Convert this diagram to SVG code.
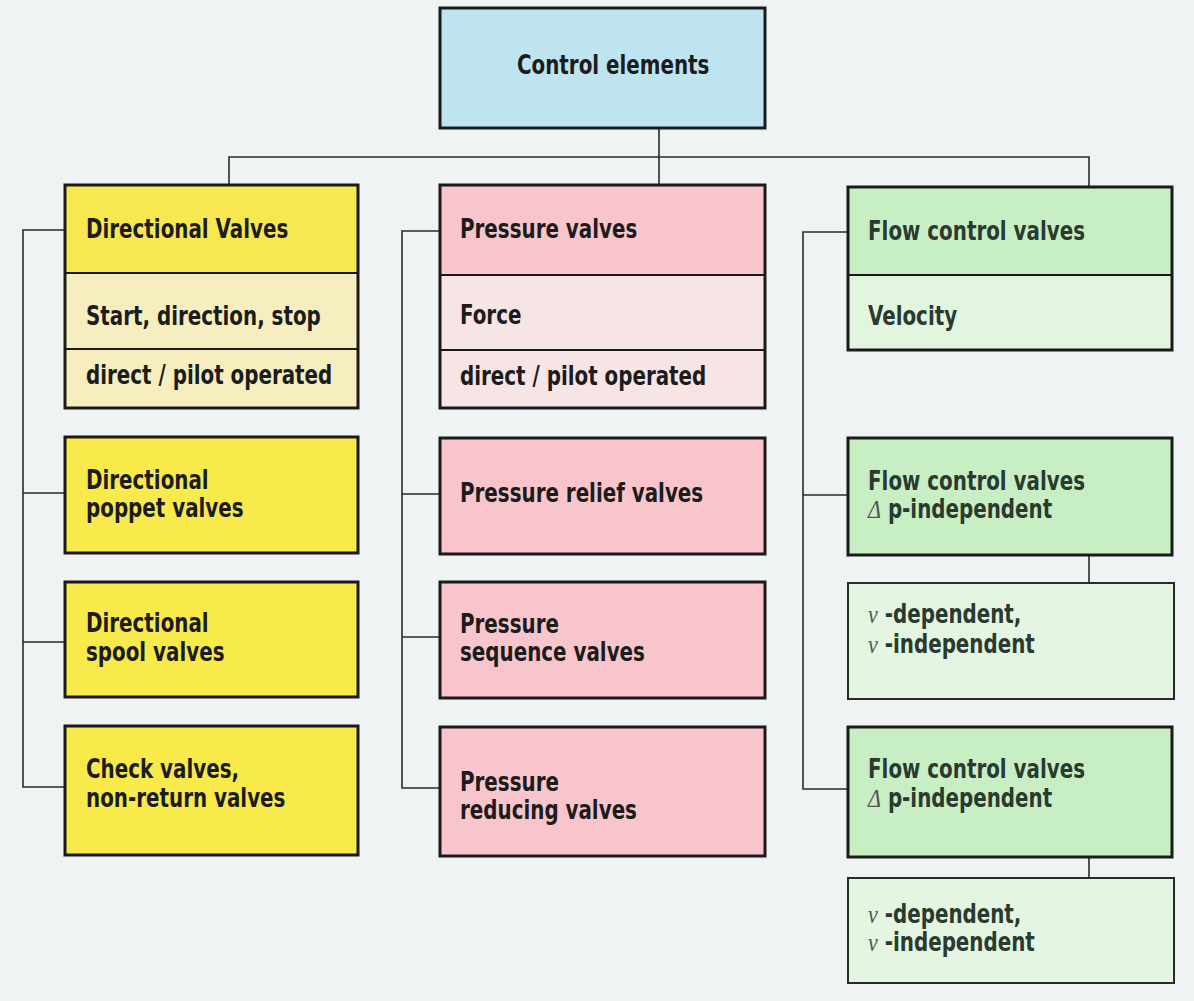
<svg xmlns="http://www.w3.org/2000/svg" width="1194" height="1001" viewBox="0 0 1194 1001">
<style>
.t{font-family:"Liberation Sans Narrow","DejaVu Sans Condensed","Liberation Sans",sans-serif;font-weight:bold;font-size:26px;fill:#1c1c1c}
.g{fill:#2a3a30}
.sym{font-family:"Liberation Serif","DejaVu Serif",serif;font-style:italic;font-weight:normal;fill:#555}
.box{stroke:#1a1a1a;stroke-width:3}
.thin{stroke:#2a2a2a;stroke-width:2}
.div{stroke:#1a1a1a;stroke-width:2}
.con{stroke:#2a2a2a;stroke-width:1.6;fill:none}
</style>
<rect width="1194" height="1001" fill="#eff3f4"/>
<g id="connectors">
<path class="con" d="M659 128V185M229 185V157H1089V187"/>
<path class="con" d="M65 230H23V787H65M23 493H65M23 642H65"/>
<path class="con" d="M440 231H402V788H440M402 494H440M402 637H440"/>
<path class="con" d="M848 232H803V789H848M803 495H848"/>
<path class="con" d="M1089 555V583M1089 857V878"/>
</g>
<g id="control-elements">
<rect class="box" x="440" y="8" width="325" height="120" fill="#bde4ef"/>
<text class="t" transform="scale(0.85 1)" x="608.2" y="74">Control elements</text>
</g>
<g id="directional-valves">
<rect x="65" y="185" width="293" height="88" fill="#f8e84f"/>
<rect x="65" y="273" width="293" height="135" fill="#f6eebe"/>
<line class="div" x1="65" y1="273" x2="358" y2="273"/>
<line class="div" x1="65" y1="349" x2="358" y2="349"/>
<rect class="box" x="65" y="185" width="293" height="223" fill="none"/>
<text class="t" transform="scale(0.85 1)" x="101.2" y="238">Directional Valves</text>
<text class="t" transform="scale(0.85 1)" x="101.2" y="325">Start, direction, stop</text>
<text class="t" transform="scale(0.85 1)" x="101.2" y="384">direct / pilot operated</text>
</g>
<g id="directional-poppet">
<rect class="box" x="65" y="437" width="293" height="116" fill="#f9ea4c"/>
<text class="t" transform="scale(0.85 1)" x="101.2" y="489">Directional</text>
<text class="t" transform="scale(0.85 1)" x="101.2" y="517">poppet valves</text>
</g>
<g id="directional-spool">
<rect class="box" x="65" y="582" width="293" height="115" fill="#f9ea4c"/>
<text class="t" transform="scale(0.85 1)" x="101.2" y="632">Directional</text>
<text class="t" transform="scale(0.85 1)" x="101.2" y="661">spool valves</text>
</g>
<g id="check-valves">
<rect class="box" x="65" y="726" width="293" height="129" fill="#f9ea4c"/>
<text class="t" transform="scale(0.85 1)" x="101.2" y="778">Check valves,</text>
<text class="t" transform="scale(0.85 1)" x="101.2" y="807">non-return valves</text>
</g>
<g id="pressure-valves">
<rect x="440" y="185" width="325" height="90" fill="#f9c5cd"/>
<rect x="440" y="275" width="325" height="133" fill="#f7e4e5"/>
<line class="div" x1="440" y1="275" x2="765" y2="275"/>
<line class="div" x1="440" y1="350" x2="765" y2="350"/>
<rect class="box" x="440" y="185" width="325" height="223" fill="none"/>
<text class="t" transform="scale(0.85 1)" x="541.2" y="238">Pressure valves</text>
<text class="t" transform="scale(0.85 1)" x="541.2" y="324">Force</text>
<text class="t" transform="scale(0.85 1)" x="541.2" y="385">direct / pilot operated</text>
</g>
<g id="pressure-relief">
<rect class="box" x="440" y="438" width="325" height="116" fill="#f9c5cd"/>
<text class="t" transform="scale(0.85 1)" x="541.2" y="502">Pressure relief valves</text>
</g>
<g id="pressure-sequence">
<rect class="box" x="440" y="582" width="325" height="116" fill="#f9c5cd"/>
<text class="t" transform="scale(0.85 1)" x="541.2" y="633">Pressure</text>
<text class="t" transform="scale(0.85 1)" x="541.2" y="661">sequence valves</text>
</g>
<g id="pressure-reducing">
<rect class="box" x="440" y="727" width="325" height="129" fill="#f9c5cd"/>
<text class="t" transform="scale(0.85 1)" x="541.2" y="791">Pressure</text>
<text class="t" transform="scale(0.85 1)" x="541.2" y="819">reducing valves</text>
</g>
<g id="flow-control-valves">
<rect x="848" y="187" width="324" height="88" fill="#c8efc4"/>
<rect x="848" y="275" width="324" height="75" fill="#e2f5df"/>
<line class="div" x1="848" y1="275" x2="1172" y2="275"/>
<rect class="box" x="848" y="187" width="324" height="163" fill="none"/>
<text class="t g" transform="scale(0.85 1)" x="1021.2" y="240">Flow control valves</text>
<text class="t g" transform="scale(0.85 1)" x="1021.2" y="325">Velocity</text>
</g>
<g id="flow-dp-1">
<rect class="box" x="848" y="438" width="324" height="117" fill="#c8efc4"/>
<text class="t g" transform="scale(0.85 1)" x="1021.2" y="490">Flow control valves</text>
<text class="t g" transform="scale(0.85 1)" x="1021.2" y="518"><tspan class="sym">Δ</tspan> p-independent</text>
</g>
<g id="flow-v-1">
<rect class="thin" x="848" y="583" width="326" height="116" fill="#e4f5e1"/>
<text class="t g" transform="scale(0.85 1)" x="1021.2" y="623"><tspan class="sym">ν</tspan> -dependent,</text>
<text class="t g" transform="scale(0.85 1)" x="1021.2" y="653"><tspan class="sym">ν</tspan> -independent</text>
</g>
<g id="flow-dp-2">
<rect class="box" x="848" y="727" width="324" height="130" fill="#c8efc4"/>
<text class="t g" transform="scale(0.85 1)" x="1021.2" y="778">Flow control valves</text>
<text class="t g" transform="scale(0.85 1)" x="1021.2" y="807"><tspan class="sym">Δ</tspan> p-independent</text>
</g>
<g id="flow-v-2">
<rect class="thin" x="848" y="878" width="326" height="105" fill="#e4f5e1"/>
<text class="t g" transform="scale(0.85 1)" x="1021.2" y="923"><tspan class="sym">ν</tspan> -dependent,</text>
<text class="t g" transform="scale(0.85 1)" x="1021.2" y="951"><tspan class="sym">ν</tspan> -independent</text>
</g>
</svg>
